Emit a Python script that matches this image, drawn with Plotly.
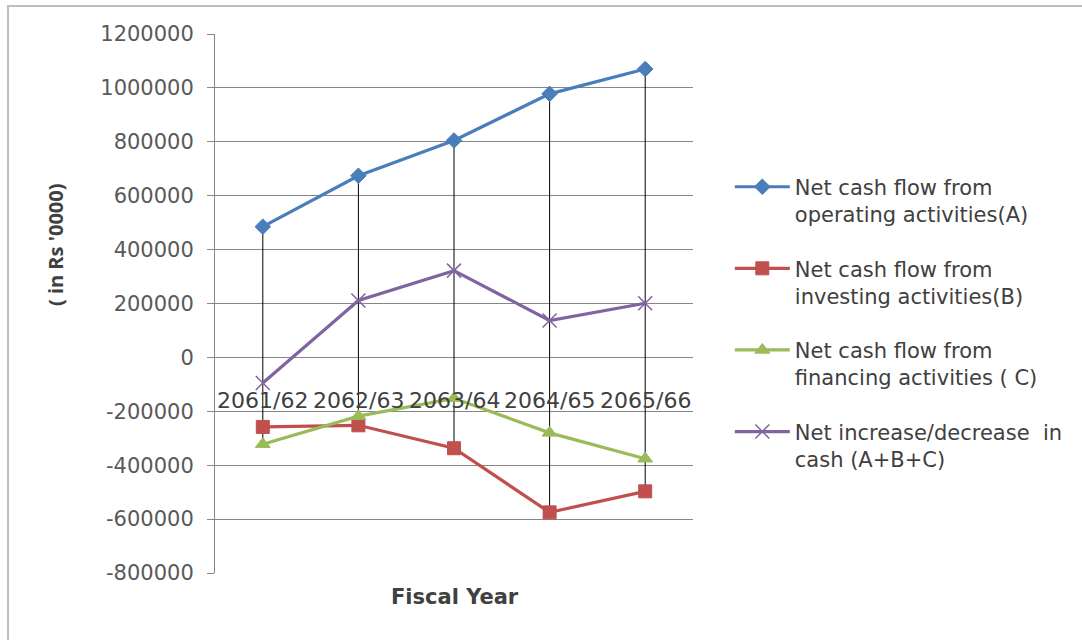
import plotly.graph_objects as go

# Fiscal years (Nepali calendar) and cash flow figures, in Rs '0000
years = ["2061/62", "2062/63", "2063/64", "2064/65", "2065/66"]
operating = [485000, 674000, 805000, 978000, 1070000]
investing = [-258000, -252000, -337000, -575000, -497000]
financing = [-322000, -218000, -152000, -280000, -376000]
net_change = [-95000, 211000, 322000, 137000, 201000]

# Value axis ticks, written with a plain hyphen for negatives
y_tickvals = [-800000, -600000, -400000, -200000, 0, 200000, 400000,
              600000, 800000, 1000000, 1200000]
y_ticktext = ["-800000", "-600000", "-400000", "-200000", "0", "200000",
              "400000", "600000", "800000", "1000000", "1200000"]

series = [
    ("Net cash flow from<br>operating activities(A)", operating, "#4A7EBB", "diamond", 12),
    ("Net cash flow from<br>investing activities(B)", investing, "#C0504D", "square", 13),
    ("Net cash flow from<br>financing activities ( C)", financing, "#9BBB59", "triangle-up", 13),
    ("Net increase/decrease  in<br>cash (A+B+C)", net_change, "#8064A2", "x-thin-open", 14),
]

FONT = "DejaVu Sans"
TEXT = "#404040"
GRID = "#868686"

fig = go.Figure()

# Drop lines: one vertical segment per year spanning the highest to lowest series value
drop_x, drop_y = [], []
all_vals = [s[1] for s in series]
for i, yr in enumerate(years):
    col = [v[i] for v in all_vals]
    drop_x += [yr, yr, None]
    drop_y += [max(col), min(col), None]
fig.add_trace(go.Scatter(
    x=drop_x, y=drop_y, mode="lines",
    line=dict(color="#000000", width=1),
    showlegend=False, hoverinfo="skip",
))

for idx, (name, vals, color, symbol, size) in enumerate(series):
    marker = dict(symbol=symbol, size=size, color=color)
    if symbol.startswith("x-thin"):
        marker["line"] = dict(color="#9F8FC4", width=1.5)
    else:
        marker["line"] = dict(color=color, width=1)
    fig.add_trace(go.Scatter(
        x=years, y=vals, name=name, mode="lines+markers",
        line=dict(color=color, width=3.2),
        marker=marker, legendgroup=f"g{idx}",
    ))

# Category labels sit just below the zero line, where the category axis crosses
annotations = [
    dict(x=yr, y=0, xref="x", yref="y", text=yr, showarrow=False,
         yshift=-43, yanchor="middle", xanchor="center",
         font=dict(family=FONT, size=22, color=TEXT))
    for yr in years
]
annotations += [
    dict(text="( in Rs '0000)", xref="paper", yref="paper", x=-0.335, y=0.61,
         textangle=-90, showarrow=False, xanchor="center", yanchor="middle",
         font=dict(family="Open Sans", size=20, color=TEXT, weight="bold")),
    dict(text="Fiscal Year", xref="paper", yref="paper", x=0.502, y=-0.045,
         showarrow=False, xanchor="center", yanchor="middle",
         font=dict(family=FONT, size=21, color=TEXT, weight="bold")),
]

fig.update_layout(
    width=1082, height=640,
    margin=dict(l=215, r=389, t=34, b=67),
    paper_bgcolor="white", plot_bgcolor="white",
    font=dict(family=FONT, color=TEXT),
    annotations=annotations,
    shapes=[dict(type="rect", xref="paper", yref="paper",
                 x0=-0.433, x1=1.9, y0=-0.2, y1=1.052,
                 line=dict(color="#BFBFBF", width=2), layer="below")],
    legend=dict(
        x=1.077, y=0.754, xanchor="left", yanchor="top",
        font=dict(family=FONT, size=21, color=TEXT),
        valign="top", itemwidth=55, tracegroupgap=24,
        bgcolor="rgba(0,0,0,0)",
    ),
    xaxis=dict(
        type="category", range=[-0.5, 4.5],
        showticklabels=False, showgrid=False, zeroline=False, showline=False,
        ticks="",
    ),
    yaxis=dict(
        range=[-800000, 1200000],
        tickmode="array", tickvals=y_tickvals, ticktext=y_ticktext,
        showgrid=True, gridcolor=GRID, gridwidth=1,
        zeroline=False, showline=True, linecolor=GRID, linewidth=1,
        ticks="outside", ticklen=7, tickcolor=GRID, ticklabelstandoff=9,
        tickfont=dict(family=FONT, size=21, color="#595959"),
    ),
    hovermode=False,
)

fig.write_html("out.html")
